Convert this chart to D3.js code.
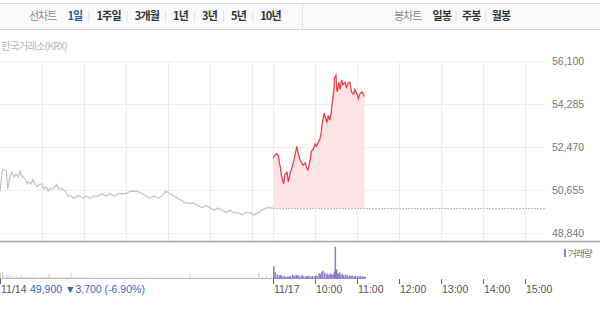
<!DOCTYPE html>
<html>
<head>
<meta charset="utf-8">
<script src="https://cdn.jsdelivr.net/npm/d3@7"></script>
<style>
  body { margin: 0; background: #fff; }
  text { font-family: "Liberation Sans", Arial, "Noto Sans CJK KR", sans-serif; }
  .kr { font-family: "Noto Sans CJK KR", sans-serif; }
</style>
</head>
<body>
<div id="chart"></div>
<script>
// ---- data ----
var leftTabs = ["1일", "1주일", "3개월", "1년", "3년", "5년", "10년"];
var rightTabs = ["일봉", "주봉", "월봉"];
var yTicks = [48840, 50655, 52470, 54285, 56100];
var dayLabels = ["11/14", "11/17"];
var hourLabels = ["10:00", "11:00", "12:00", "13:00", "14:00", "15:00"];
var prevClose = 49900;
var summary = "49,900 ▼3,700 (-6.90%)";

// 11/14 (previous session)
var times14 = ["09:00","09:03","09:04","09:09","09:11","09:14","09:17","09:20","09:23","09:26",
  "09:29","09:30","09:33","09:36","09:39","09:41","09:44","09:47","09:50","09:53",
  "09:57","10:00","10:03","10:06","10:09","10:11","10:14","10:19","10:21","10:24",
  "10:29","10:33","10:37","10:41","10:46","10:50","10:54","10:59","11:03","11:09",
  "11:14","11:20","11:26","11:31","11:37","11:43","11:49","11:54","12:00","12:06",
  "12:11","12:17","12:23","12:29","12:34","12:40","12:46","12:51","12:57","13:03",
  "13:09","13:14","13:20","13:26","13:31","13:37","13:43","13:49","13:54","14:00",
  "14:06","14:11","14:17","14:23","14:29","14:34","14:40","14:46","14:51","14:57",
  "15:03","15:09","15:14","15:20","15:26","15:30"];
var prices14 = [50600,51400,51500,51500,50700,51200,51400,51200,51300,51200,
  51500,51300,51200,51100,50900,51000,50900,51100,50900,50800,
  50900,50900,50700,50800,50600,50700,50700,50800,50900,50700,
  50700,50600,50400,50400,50300,50400,50400,50300,50400,50300,
  50400,50400,50500,50400,50500,50400,50500,50500,50500,50600,
  50600,50600,50500,50400,50300,50400,50300,50400,50600,50500,
  50400,50300,50200,50100,50100,50100,50000,49900,50000,49900,
  49800,49900,49800,49700,49800,49700,49700,49600,49700,49700,
  49600,49700,49800,49900,49900,49900];
var vol14 = [15000,18000,9000,12000,6000,8000,5000,4000,6000,3000,
  5000,4000,3000,4000,3000,5000,3000,4000,3000,2000,
  3000,4000,3000,2000,12000,3000,2000,3000,2000,3000,
  2000,3000,2000,15000,3000,2000,3000,2000,3000,2000,
  2000,3000,2000,3000,2000,2000,3000,2000,3000,2000,
  2000,2000,3000,2000,2000,3000,2000,2000,3000,2000,
  3000,2000,3000,2000,13000,3000,2000,3000,2000,3000,
  2000,3000,2000,3000,2000,3000,2000,4000,3000,3000,
  4000,16000,5000,6000,4000,8000];

// 11/17 (current session)
var times17 = ["09:00","09:02","09:05","09:08","09:09","09:10","09:12","09:15","09:17","09:20",
  "09:22","09:24","09:27","09:29","09:32","09:34","09:36","09:39","09:41","09:43",
  "09:46","09:48","09:50","09:53","09:55","09:58","10:00","10:02","10:05","10:07",
  "10:09","10:10","10:13","10:16","10:17","10:19","10:21","10:23","10:25","10:27",
  "10:28","10:30","10:31","10:32","10:34","10:36","10:38","10:40","10:43","10:45",
  "10:48","10:50","10:52","10:55","10:57","11:00","11:02","11:04","11:07","11:09","11:11"];
var prices17 = [52000,52100,52200,52100,51800,51700,51300,50900,51300,51400,
  51000,51300,51600,51800,52200,52500,52200,51900,51800,51700,
  51800,51600,51500,51900,52300,52400,52600,52500,52700,52800,
  53100,53400,53900,53600,53500,53800,53600,53900,54400,54900,
  55400,55500,54900,54800,55200,54900,55300,55100,55200,55000,
  55200,55200,54800,54700,54900,54700,54500,54700,54800,54700,54600];
var vol17 = [36000,18000,11000,8000,6000,9000,5000,6000,4000,5000,
  4000,6000,9000,7000,10000,8000,6000,5000,9000,4000,
  6000,5000,7000,4000,6000,5000,8000,6000,14000,12000,
  18000,22000,16000,11000,13000,9000,14000,10000,12000,20000,
  95000,26000,14000,12000,17000,9000,13000,8000,10000,7000,
  8000,6000,7000,5000,6000,5000,4000,7000,5000,4000,3000];

// ---- setup ----
var svgWidth = 600, svgHeight = 313;
var plotRight = 545;

var svg = d3.select("#chart").append("svg")
  .attr("width", svgWidth)
  .attr("height", svgHeight);

// session minute index: 11/14 = 0..390, 11/17 = 390..780
function toMin(day, t) {
  var p = t.split(":");
  return day * 390 + (+p[0] - 9) * 60 + (+p[1]);
}

var xScale = d3.scaleLinear().domain([0, 780]).range([0, 546]);
var yScale = d3.scaleLinear().domain([48840, 56100]).range([233, 61]);
var vScale = d3.scaleLinear().domain([0, 100000]).range([278, 245]);

var day14 = times14.map(function(t, i) { return { m: toMin(0, t), p: prices14[i], v: vol14[i] }; });
var day17 = times17.map(function(t, i) { return { m: toMin(1, t), p: prices17[i], v: vol17[i] }; });

// ---- tab bar ----
var bar = svg.append("g");
bar.append("rect").attr("x", 0).attr("y", 3).attr("width", svgWidth).attr("height", 26).attr("fill", "#fafafa");
bar.append("line").attr("x1", 0).attr("x2", svgWidth).attr("y1", 3.5).attr("y2", 3.5).attr("stroke", "#d6d6d6");
bar.append("line").attr("x1", 0).attr("x2", svgWidth).attr("y1", 29.5).attr("y2", 29.5).attr("stroke", "#d6d6d6");
bar.append("line").attr("x1", 302.5).attr("x2", 302.5).attr("y1", 4).attr("y2", 29).attr("stroke", "#e2e2e2");

function drawTabs(title, tabs, x0, gap, active) {
  var t = bar.append("text").attr("class", "kr")
    .attr("x", x0).attr("y", 20)
    .style("font-size", "11px").style("letter-spacing", "-1px")
    .attr("fill", "#8a8a8a").text(title);
  var cx = x0 + t.node().getComputedTextLength() + 11;
  tabs.forEach(function(s, i) {
    if (i > 0) {
      bar.append("line").attr("x1", cx - gap / 2 - 0.5).attr("x2", cx - gap / 2 - 0.5)
        .attr("y1", 11).attr("y2", 22).attr("stroke", "#e0e0e0");
    }
    var tt = bar.append("text").attr("class", "kr")
      .attr("x", cx).attr("y", 20)
      .style("font-size", "11px").style("font-weight", "bold").style("letter-spacing", "-0.8px")
      .attr("fill", i === active ? "#2e5bb5" : "#333")
      .text(s);
    cx += tt.node().getComputedTextLength() + gap;
  });
}
drawTabs("선차트", leftTabs, 29, 14, 0);
drawTabs("봉차트", rightTabs, 394, 11, -1);

// source label
svg.append("text").attr("class", "kr")
  .attr("x", 1).attr("y", 50)
  .style("font-size", "10.5px").style("letter-spacing", "-0.9px")
  .attr("fill", "#b8b8b8")
  .text("한국거래소(KRX)");

// ---- grid ----
var chartGroup = svg.append("g");

var hGrid = chartGroup.append("g")
  .attr("transform", "translate(" + plotRight + ",0)")
  .call(d3.axisLeft(yScale).tickValues(yTicks).tickSize(plotRight).tickFormat(""));
hGrid.select(".domain").remove();
hGrid.selectAll(".tick line").attr("stroke", "#ededed");

var gridMins = hourLabels.map(function(h) { return toMin(0, h); })
  .concat([toMin(1, "09:00")])
  .concat(hourLabels.map(function(h) { return toMin(1, h); }));

chartGroup.selectAll(".vgrid")
  .data(gridMins)
  .enter()
  .append("line")
    .attr("class", "vgrid")
    .attr("x1", function(d) { return Math.round(xScale(d)) + 0.5; })
    .attr("x2", function(d) { return Math.round(xScale(d)) + 0.5; })
    .attr("y1", 61)
    .attr("y2", 241)
    .attr("stroke", "#ededed");

// y labels
var yAxis = chartGroup.append("g")
  .attr("transform", "translate(" + plotRight + ",0)")
  .call(d3.axisRight(yScale).tickValues(yTicks).tickSize(0).tickPadding(7).tickFormat(d3.format(",")));
yAxis.select(".domain").remove();
yAxis.selectAll("text")
  .style("font-size", "10.5px")
  .style("font-family", "'Liberation Sans', Arial, sans-serif")
  .attr("fill", "#777");

// ---- price lines ----
var lineGen = d3.line()
  .x(function(d) { return xScale(d.m); })
  .y(function(d) { return yScale(d.p); });

var areaGen = d3.area()
  .x(function(d) { return xScale(d.m); })
  .y0(yScale(prevClose))
  .y1(function(d) { return yScale(d.p); });

// previous close reference (dotted)
chartGroup.append("line")
  .attr("x1", xScale(toMin(1, "09:00")))
  .attr("x2", plotRight)
  .attr("y1", Math.round(yScale(prevClose)) + 0.5)
  .attr("y2", Math.round(yScale(prevClose)) + 0.5)
  .attr("stroke", "#bdbdbd")
  .attr("stroke-dasharray", "2,1");

chartGroup.append("path")
  .datum(day17)
  .attr("d", areaGen)
  .attr("fill", "#fde3e5");

chartGroup.append("path")
  .datum(day14)
  .attr("d", lineGen)
  .attr("fill", "none")
  .attr("stroke", "#c2c2c2")
  .attr("stroke-width", 1.2);

chartGroup.append("path")
  .datum(day17)
  .attr("d", lineGen)
  .attr("fill", "none")
  .attr("stroke", "#e8444b")
  .attr("stroke-width", 1.3);

// bottom border of price panel
svg.append("line")
  .attr("x1", 0).attr("x2", svgWidth)
  .attr("y1", 241.5).attr("y2", 241.5)
  .attr("stroke", "#a5a5a5")
  .attr("stroke-width", 1.5);

// ---- volume ----
var volGroup = svg.append("g");

volGroup.append("line")
  .attr("x1", 0).attr("x2", xScale(toMin(1, "09:00")))
  .attr("y1", 278.5).attr("y2", 278.5)
  .attr("stroke", "#b8b8b8");
volGroup.append("line")
  .attr("x1", xScale(toMin(1, "09:00"))).attr("x2", xScale(day17[day17.length - 1].m) + 1)
  .attr("y1", 278.5).attr("y2", 278.5)
  .attr("stroke", "#9a88cc");

volGroup.selectAll(".v14")
  .data(day14)
  .enter()
  .append("rect")
    .attr("class", "v14")
    .attr("x", function(d) { return xScale(d.m); })
    .attr("y", function(d) { return vScale(d.v); })
    .attr("width", 1)
    .attr("height", function(d) { return 278 - vScale(d.v); })
    .attr("fill", "#cfcfcf");

volGroup.selectAll(".v17")
  .data(day17)
  .enter()
  .append("rect")
    .attr("class", "v17")
    .attr("x", function(d) { return xScale(d.m); })
    .attr("y", function(d) { return vScale(d.v); })
    .attr("width", 1.5)
    .attr("height", function(d) { return 278 - vScale(d.v); })
    .attr("fill", "#8f7bc8");

// legend
svg.append("rect").attr("x", 564).attr("y", 249).attr("width", 2).attr("height", 8).attr("fill", "#8f7bc8");
svg.append("text").attr("class", "kr")
  .attr("x", 568).attr("y", 257)
  .style("font-size", "9.5px").style("letter-spacing", "-0.8px")
  .attr("fill", "#777")
  .text("거래량");

// ---- time axis ----
var tickMins = [toMin(0, "09:00"), toMin(1, "09:00")].concat(hourLabels.map(function(h) { return toMin(1, h); }));
var tickTexts = dayLabels.concat(hourLabels);

var xAxisG = svg.append("g");
xAxisG.selectAll(".xtick")
  .data(tickMins)
  .enter()
  .append("line")
    .attr("class", "xtick")
    .attr("x1", function(d) { return Math.round(xScale(d)) + 0.5; })
    .attr("x2", function(d) { return Math.round(xScale(d)) + 0.5; })
    .attr("y1", 279)
    .attr("y2", 284)
    .attr("stroke", "#666");

xAxisG.selectAll(".xlabel")
  .data(tickMins)
  .enter()
  .append("text")
    .attr("class", "xlabel")
    .attr("x", function(d) { return Math.round(xScale(d)) + 1; })
    .attr("y", 293)
    .style("font-size", "10.5px")
    .attr("fill", "#555")
    .text(function(d, i) { return tickTexts[i]; });

svg.append("text")
  .attr("x", 30).attr("y", 293)
  .style("font-size", "10.5px")
  .attr("fill", "#3467c4")
  .text(summary);
</script>
</body>
</html>
